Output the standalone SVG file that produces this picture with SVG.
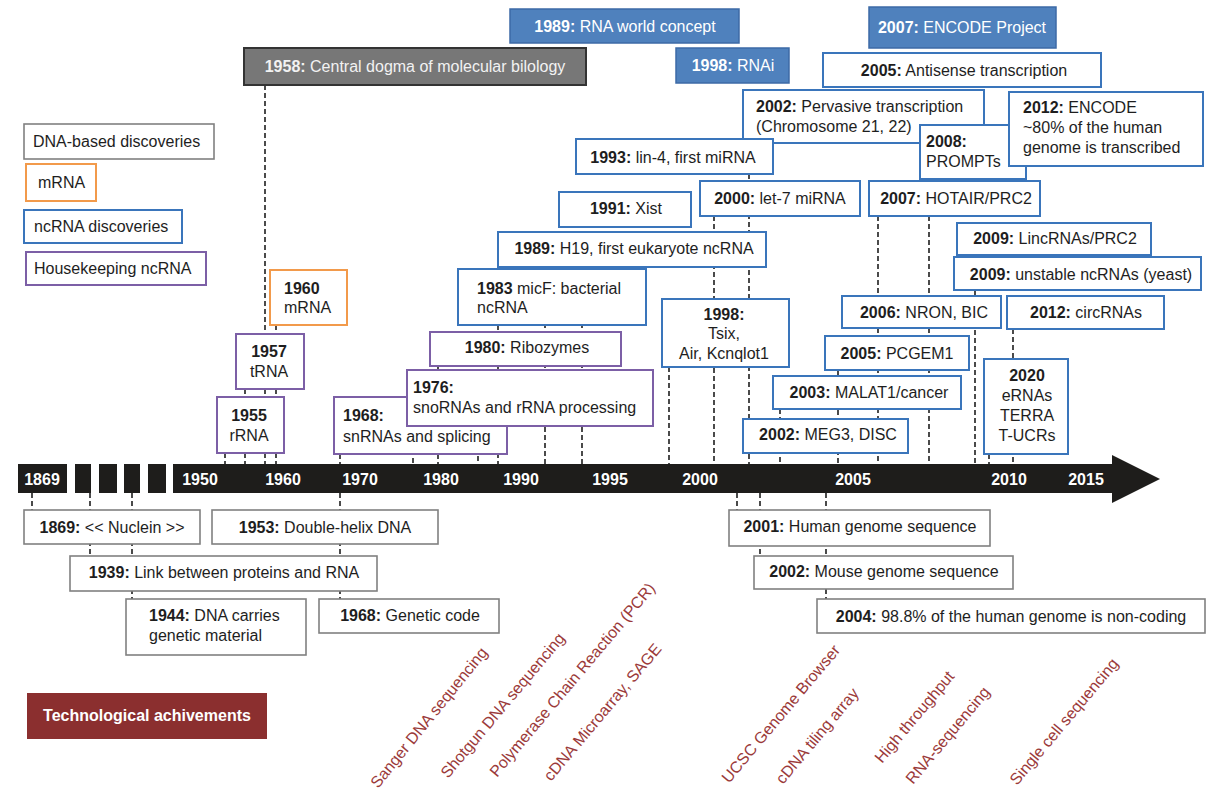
<svg xmlns="http://www.w3.org/2000/svg" width="1207" height="789" viewBox="0 0 1207 789">
<style>
.t{font-family:"Liberation Sans",Arial,sans-serif;font-size:16px;fill:#1e1e1e}
.c{text-anchor:middle}
.w{fill:#ffffff}
.yr{font-weight:bold}
.bl{fill:#fff;stroke:#3a75bb;stroke-width:2}
.pu{fill:#fff;stroke:#7c5fa6;stroke-width:2}
.or{fill:#fff;stroke:#f29a4b;stroke-width:2}
.gr{fill:#fff;stroke:#808080;stroke-width:1.6}
.bf{fill:#4f81bd;stroke:#3c6aa6;stroke-width:1.5}
.dk{fill:#777777;stroke:#333;stroke-width:2}
.bar{fill:#1e1d1b}
.bt{font-family:"Liberation Sans",Arial,sans-serif;font-size:16px;font-weight:bold;fill:#fff;text-anchor:middle}
.tech{font-family:"Liberation Sans",Arial,sans-serif;font-size:16px;fill:#9b3a3a}
#connectors line{stroke:#1e1e1e;stroke-width:1.6;stroke-dasharray:5 3}
</style>

<!-- timeline bar -->
<g id="timeline">
<rect class="bar" x="18" y="464" width="49" height="29"/>
<rect class="bar" x="75" y="464" width="16" height="29"/>
<rect class="bar" x="99" y="464" width="18" height="29"/>
<rect class="bar" x="124" y="464" width="16" height="29"/>
<rect class="bar" x="148" y="464" width="18" height="29"/>
<polygon class="bar" points="173,464 1112,464 1112,455 1160,479 1112,503 1112,493 173,493"/>
<text class="bt" x="42" y="485">1869</text>
<text class="bt" x="200" y="485">1950</text>
<text class="bt" x="283" y="485">1960</text>
<text class="bt" x="360" y="485">1970</text>
<text class="bt" x="441" y="485">1980</text>
<text class="bt" x="521" y="485">1990</text>
<text class="bt" x="610" y="485">1995</text>
<text class="bt" x="700" y="485">2000</text>
<text class="bt" x="853" y="485">2005</text>
<text class="bt" x="1009" y="485">2010</text>
<text class="bt" x="1086" y="485">2015</text>
</g>

<g id="connectors">
<line x1="225" y1="453" x2="225" y2="464"/>
<line x1="245" y1="389" x2="245" y2="464"/>
<line x1="265" y1="85" x2="265" y2="464"/>
<line x1="276" y1="325" x2="276" y2="464"/>
<line x1="340" y1="454" x2="340" y2="464"/>
<line x1="413" y1="426" x2="413" y2="464"/>
<line x1="438" y1="366" x2="438" y2="464"/>
<line x1="478" y1="440" x2="478" y2="464"/>
<line x1="498" y1="325" x2="498" y2="464"/>
<line x1="545" y1="267" x2="545" y2="464"/>
<line x1="582" y1="267" x2="582" y2="464"/>
<line x1="669" y1="367" x2="669" y2="464"/>
<line x1="714" y1="216" x2="714" y2="464"/>
<line x1="749" y1="174" x2="749" y2="464"/>
<line x1="780" y1="409" x2="780" y2="464"/>
<line x1="838" y1="370" x2="838" y2="464"/>
<line x1="878" y1="216" x2="878" y2="464"/>
<line x1="929" y1="216" x2="929" y2="464"/>
<line x1="975" y1="290" x2="975" y2="464"/>
<line x1="989" y1="454" x2="989" y2="464"/>
<line x1="1013" y1="329" x2="1013" y2="464"/>
<line x1="32" y1="493" x2="32" y2="510"/>
<line x1="90" y1="493" x2="90" y2="556"/>
<line x1="132" y1="493" x2="132" y2="599"/>
<line x1="340" y1="493" x2="340" y2="599"/>
<line x1="737" y1="493" x2="737" y2="510"/>
<line x1="760" y1="493" x2="760" y2="556"/>
<line x1="826" y1="493" x2="826" y2="599"/>
</g>

<!-- legend -->
<g id="legend-dna"><rect class="gr" x="24" y="124" width="190" height="35"/><text class="t" x="33" y="147">DNA-based discoveries</text></g>
<g id="legend-mrna"><rect class="or" x="26" y="164" width="70" height="37"/><text class="t" x="38" y="188">mRNA</text></g>
<g id="legend-ncrna"><rect class="bl" x="24" y="210" width="158" height="33"/><text class="t" x="34" y="232">ncRNA discoveries</text></g>
<g id="legend-hk"><rect class="pu" x="26" y="252" width="180" height="33"/><text class="t" x="34" y="274">Housekeeping ncRNA</text></g>

<!-- top concept boxes -->
<g id="n1958"><rect class="dk" x="244" y="48" width="342" height="37"/><text class="t c" x="415" y="72" style="fill:#f2f2f2"><tspan class="yr">1958:</tspan> Central dogma of molecular bilology</text></g>
<g id="n1989rna"><rect class="bf" x="510" y="9" width="229" height="34"/><text class="t c w" x="625" y="32"><tspan class="yr">1989:</tspan> RNA world concept</text></g>
<g id="n1998rnai"><rect class="bf" x="676" y="48" width="113" height="35"/><text class="t c w" x="733" y="71"><tspan class="yr">1998:</tspan> RNAi</text></g>
<g id="n2007encode"><rect class="bf" x="869" y="7" width="187" height="41"/><text class="t c w" x="962" y="33"><tspan class="yr">2007:</tspan> ENCODE Project</text></g>

<!-- ncRNA discoveries -->
<g id="n2005anti"><rect class="bl" x="823" y="53" width="278" height="34"/><text class="t c" x="964" y="76"><tspan class="yr">2005:</tspan> Antisense transcription</text></g>
<g id="n2002perv"><rect class="bl" x="743" y="90" width="241" height="53"/><text class="t" x="756" y="112"><tspan class="yr">2002:</tspan> Pervasive transcription</text><text class="t" x="756" y="132">(Chromosome 21, 22)</text></g>
<g id="n2008"><rect class="bl" x="920" y="125" width="106" height="54"/><text class="t" x="926" y="147"><tspan class="yr">2008:</tspan></text><text class="t" x="926" y="167">PROMPTs</text></g>
<g id="n2012encode"><rect class="bl" x="1009" y="92" width="194" height="74"/><text class="t" x="1023" y="113"><tspan class="yr">2012:</tspan> ENCODE</text><text class="t" x="1023" y="133">~80% of the human</text><text class="t" x="1023" y="153">genome is transcribed</text></g>
<g id="n1993"><rect class="bl" x="576" y="139" width="197" height="35"/><text class="t c" x="673" y="163"><tspan class="yr">1993:</tspan> lin-4, first miRNA</text></g>
<g id="n2000"><rect class="bl" x="700" y="181" width="160" height="35"/><text class="t c" x="780" y="204"><tspan class="yr">2000:</tspan> let-7 miRNA</text></g>
<g id="n2007hotair"><rect class="bl" x="869" y="181" width="171" height="35"/><text class="t c" x="956" y="204"><tspan class="yr">2007:</tspan> HOTAIR/PRC2</text></g>
<g id="n1991"><rect class="bl" x="559" y="192" width="132" height="35"/><text class="t c" x="626" y="214"><tspan class="yr">1991:</tspan> Xist</text></g>
<g id="n1989h19"><rect class="bl" x="498" y="232" width="268" height="35"/><text class="t c" x="634" y="254"><tspan class="yr">1989:</tspan> H19, first eukaryote ncRNA</text></g>
<g id="n2009linc"><rect class="bl" x="957" y="223" width="194" height="32"/><text class="t c" x="1055" y="244"><tspan class="yr">2009:</tspan> LincRNAs/PRC2</text></g>
<g id="n2009yeast"><rect class="bl" x="954" y="257" width="247" height="33"/><text class="t c" x="1081" y="280"><tspan class="yr">2009:</tspan> unstable ncRNAs (yeast)</text></g>
<g id="n1983"><rect class="bl" x="458" y="269" width="188" height="56"/><text class="t" x="477" y="294"><tspan class="yr">1983</tspan> micF: bacterial</text><text class="t" x="477" y="313">ncRNA</text></g>
<g id="n1998tsix"><rect class="bl" x="662" y="299" width="127" height="68"/><text class="t c" x="724" y="320"><tspan class="yr">1998:</tspan></text><text class="t c" x="724" y="339">Tsix,</text><text class="t c" x="724" y="359">Air, Kcnqlot1</text></g>
<g id="n2006"><rect class="bl" x="842" y="296" width="159" height="32"/><text class="t c" x="924" y="318"><tspan class="yr">2006:</tspan> NRON, BIC</text></g>
<g id="n2012circ"><rect class="bl" x="1007" y="296" width="157" height="33"/><text class="t c" x="1086" y="318"><tspan class="yr">2012:</tspan> circRNAs</text></g>
<g id="n2005pcgem"><rect class="bl" x="825" y="336" width="144" height="34"/><text class="t c" x="897" y="359"><tspan class="yr">2005:</tspan> PCGEM1</text></g>
<g id="n2003"><rect class="bl" x="773" y="376" width="188" height="33"/><text class="t c" x="869" y="398"><tspan class="yr">2003:</tspan> MALAT1/cancer</text></g>
<g id="n2002meg3"><rect class="bl" x="743" y="419" width="165" height="34"/><text class="t c" x="828" y="440"><tspan class="yr">2002:</tspan> MEG3, DISC</text></g>
<g id="n2020"><rect class="bl" x="984" y="359" width="84" height="95"/><text class="t c" x="1027" y="381"><tspan class="yr">2020</tspan></text><text class="t c" x="1027" y="401">eRNAs</text><text class="t c" x="1027" y="421">TERRA</text><text class="t c" x="1027" y="441">T-UCRs</text></g>

<!-- mRNA / housekeeping -->
<g id="n1960"><rect class="or" x="270" y="270" width="77" height="55"/><text class="t" x="284" y="294"><tspan class="yr">1960</tspan></text><text class="t" x="284" y="313">mRNA</text></g>
<g id="n1957"><rect class="pu" x="236" y="334" width="68" height="55"/><text class="t c" x="269" y="357"><tspan class="yr">1957</tspan></text><text class="t c" x="269" y="377">tRNA</text></g>
<g id="n1955"><rect class="pu" x="217" y="397" width="67" height="56"/><text class="t c" x="249" y="421"><tspan class="yr">1955</tspan></text><text class="t c" x="249" y="441">rRNA</text></g>
<g id="n1980"><rect class="pu" x="430" y="332" width="191" height="34"/><text class="t c" x="527" y="353"><tspan class="yr">1980:</tspan> Ribozymes</text></g>
<g id="n1968sn"><rect class="pu" x="334" y="397" width="173" height="57"/><text class="t" x="343" y="421"><tspan class="yr">1968:</tspan></text><text class="t" x="343" y="442">snRNAs and splicing</text></g>
<g id="n1976"><rect class="pu" x="407" y="370" width="246" height="56"/><text class="t" x="413" y="393"><tspan class="yr">1976:</tspan></text><text class="t" x="413" y="413">snoRNAs and rRNA processing</text></g>

<!-- DNA-based discoveries -->
<g id="n1869"><rect class="gr" x="24" y="510" width="176" height="34"/><text class="t c" x="112" y="533"><tspan class="yr">1869:</tspan> &lt;&lt; Nuclein &gt;&gt;</text></g>
<g id="n1953"><rect class="gr" x="212" y="510" width="226" height="34"/><text class="t c" x="325" y="533"><tspan class="yr">1953:</tspan> Double-helix DNA</text></g>
<g id="n1939"><rect class="gr" x="70" y="556" width="307" height="35"/><text class="t c" x="224" y="578"><tspan class="yr">1939:</tspan> Link between proteins and RNA</text></g>
<g id="n1944"><rect class="gr" x="126" y="599" width="180" height="56"/><text class="t" x="149" y="621"><tspan class="yr">1944:</tspan> DNA carries</text><text class="t" x="149" y="641">genetic material</text></g>
<g id="n1968gc"><rect class="gr" x="319" y="599" width="180" height="34"/><text class="t c" x="410" y="621"><tspan class="yr">1968:</tspan> Genetic code</text></g>
<g id="n2001"><rect class="gr" x="729" y="510" width="261" height="36"/><text class="t c" x="860" y="532"><tspan class="yr">2001:</tspan> Human genome sequence</text></g>
<g id="n2002mouse"><rect class="gr" x="754" y="556" width="259" height="33"/><text class="t c" x="884" y="577"><tspan class="yr">2002:</tspan> Mouse genome sequence</text></g>
<g id="n2004"><rect class="gr" x="817" y="599" width="388" height="34"/><text class="t c" x="1011" y="622"><tspan class="yr">2004:</tspan> 98.8% of the human genome is non-coding</text></g>

<!-- technological achievements -->
<g id="tech">
<rect x="27" y="693" width="240" height="46" fill="#8b2f2f"/>
<text x="147" y="721" style="font-family:'Liberation Sans',Arial,sans-serif;font-size:16px;font-weight:bold;fill:#fff;text-anchor:middle">Technological achivements</text>
<text class="tech" x="378" y="789" transform="rotate(-51 378 789)">Sanger DNA sequencing</text>
<text class="tech" x="448" y="779" transform="rotate(-50 448 779)">Shotgun DNA sequencing</text>
<text class="tech" x="497" y="778" transform="rotate(-50 497 778)">Polymerase Chain Reaction (PCR)</text>
<text class="tech" x="551" y="782" transform="rotate(-50 551 782)">cDNA Microarray, SAGE</text>
<text class="tech" x="729" y="784" transform="rotate(-50 729 784)">UCSC Genome Browser</text>
<text class="tech" x="783" y="785" transform="rotate(-50 783 785)">cDNA tiling array</text>
<text class="tech" x="882" y="764" transform="rotate(-50 882 764)">High throughput</text>
<text class="tech" x="913" y="785" transform="rotate(-50 913 785)">RNA-sequencing</text>
<text class="tech" x="1017" y="786" transform="rotate(-50 1017 786)">Single cell sequencing</text>
</g>
</svg>
